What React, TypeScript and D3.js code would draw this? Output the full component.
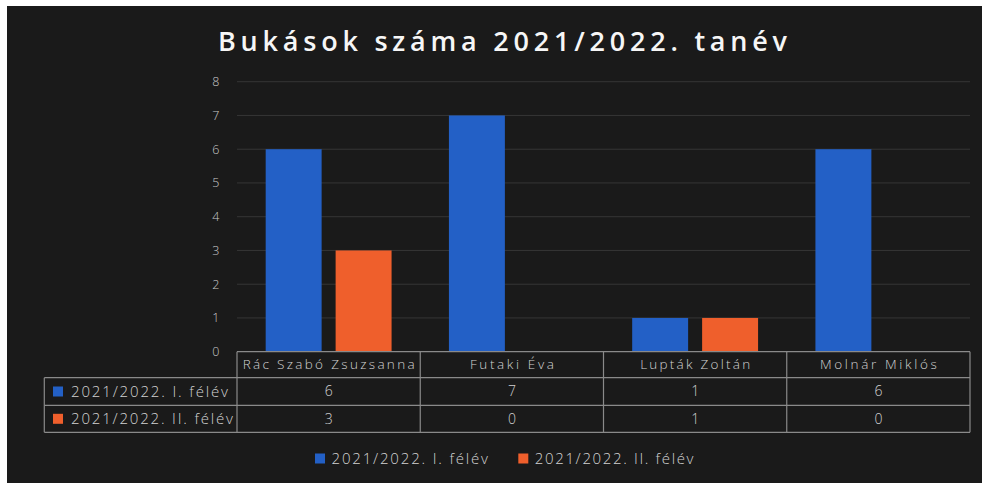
import React from "react";
import * as d3 from "d3";

const categories = ["Rác Szabó Zsuzsanna", "Futaki Éva", "Lupták Zoltán", "Molnár Miklós"];
const seriesNames = ["2021/2022. I. félév", "2021/2022. II. félév"];
const semester1 = [6, 7, 1, 6];
const semester2 = [3, 0, 1, 0];
const yTicks = [0, 1, 2, 3, 4, 5, 6, 7, 8];
const title = "Bukások száma 2021/2022. tanév";

// measured text widths (layout only)
const headerWidths = [172, 84, 110, 117];
const rowLabelWidths = [157, 162];
const legendWidths = [156.5, 158.7];

const W = 982;
const H = 483;
const colors = ["#2360c6", "#ef5f2c"];
const textColor = "#d2d2d2";
const font = "'Open Sans', 'Noto Sans', sans-serif";

export default function App() {
  const plotLeft = 237;
  const plotRight = 970;
  const plotTop = 81.7;
  const plotBottom = 351.7;

  const x0 = d3.scaleBand<string>().domain(categories).range([plotLeft, plotRight]).padding(0);
  const x1 = d3
    .scaleBand<string>()
    .domain(seriesNames)
    .range([0, x0.bandwidth()])
    .paddingInner(0.2)
    .paddingOuter(0.41);
  const y = d3.scaleLinear().domain([0, 8]).range([plotBottom, plotTop]);

  const seriesValues = [semester1, semester2];

  const rowH = [26, 27.6, 27];
  const tableTop = plotBottom;
  const r1 = tableTop + rowH[0];
  const r2 = r1 + rowH[1];
  const r3 = r2 + rowH[2];
  const legendColLeft = 44.3;
  const lineColor = "#8a8a8a";

  return (
    <svg
      width={W}
      height={H}
      style={{ position: "absolute", left: 0, top: 0 }}
      fontFamily={font}
    >
      <rect x={0} y={0} width={W} height={H} fill="#ffffff" />
      <rect x={7} y={6} width={W - 7} height={H - 6} fill="#1a1a1a" />

      <text
        x={218}
        y={51}
        fill="#f6f6f6"
        fontSize={27}
        fontWeight={600}
        textLength={569}
        lengthAdjust="spacing"
      >
        {title}
      </text>

      {yTicks.filter((t) => t > 0).map((t) => (
        <line
          key={"g" + t}
          x1={plotLeft}
          x2={plotRight}
          y1={y(t)}
          y2={y(t)}
          stroke="#363636"
          strokeWidth={1}
        />
      ))}
      {yTicks.map((t) => (
        <text
          key={"t" + t}
          x={219.5}
          y={y(t)}
          dy="0.35em"
          textAnchor="end"
          fill="#c8c8c8"
          fontSize={12.5}
          fontWeight={300}
        >
          {t}
        </text>
      ))}

      {categories.map((c, ci) =>
        seriesNames.map((s, si) => {
          const v = seriesValues[si][ci];
          return (
            <rect
              key={c + s}
              x={(x0(c) as number) + (x1(s) as number)}
              y={y(v)}
              width={x1.bandwidth()}
              height={y(0) - y(v)}
              fill={colors[si]}
            />
          );
        })
      )}

      {/* data table */}
      <g stroke={lineColor} strokeWidth={1.2} fill="none">
        <line x1={plotLeft} x2={plotRight} y1={tableTop} y2={tableTop} />
        <line x1={legendColLeft} x2={plotRight} y1={r1} y2={r1} />
        <line x1={legendColLeft} x2={plotRight} y1={r2} y2={r2} />
        <line x1={legendColLeft} x2={plotRight} y1={r3} y2={r3} />
        <line x1={legendColLeft} x2={legendColLeft} y1={r1} y2={r3} />
        {categories.map((c) => (
          <line key={"v" + c} x1={x0(c)} x2={x0(c)} y1={tableTop} y2={r3} />
        ))}
        <line x1={plotRight} x2={plotRight} y1={tableTop} y2={r3} />
      </g>
      {categories.map((c, ci) => (
        <text
          key={"h" + c}
          x={(x0(c) as number) + x0.bandwidth() / 2 - headerWidths[ci] / 2}
          y={(tableTop + r1) / 2}
          dy="0.35em"
          fill={textColor}
          fontSize={13.5}
          fontWeight={300}
          textLength={headerWidths[ci]}
          lengthAdjust="spacing"
        >
          {c}
        </text>
      ))}
      {seriesNames.map((s, si) => {
        const top = si === 0 ? r1 : r2;
        const bottom = si === 0 ? r2 : r3;
        const cy = (top + bottom) / 2;
        return (
          <g key={"row" + s}>
            <rect x={53} y={cy - 5} width={10} height={10} fill={colors[si]} />
            <text
              x={71}
              y={cy}
              dy="0.35em"
              fill={textColor}
              fontSize={15}
              fontWeight={300}
              textLength={rowLabelWidths[si]}
              lengthAdjust="spacing"
            >
              {s}
            </text>
            {categories.map((c, ci) => (
              <text
                key={"cell" + c}
                x={(x0(c) as number) + x0.bandwidth() / 2}
                y={cy}
                dy="0.35em"
                textAnchor="middle"
                fill={textColor}
                fontSize={14}
                fontWeight={300}
              >
                {seriesValues[si][ci]}
              </text>
            ))}
          </g>
        );
      })}

      {/* legend */}
      {seriesNames.map((s, si) => {
        const lx = si === 0 ? 315 : 518.3;
        const ly = 458.5;
        return (
          <g key={"lg" + s}>
            <rect x={lx} y={ly - 5} width={10} height={10} fill={colors[si]} />
            <text
              x={lx + 16.5}
              y={ly}
              dy="0.35em"
              fill={textColor}
              fontSize={15}
              fontWeight={300}
              textLength={legendWidths[si]}
              lengthAdjust="spacing"
            >
              {s}
            </text>
          </g>
        );
      })}
    </svg>
  );
}
